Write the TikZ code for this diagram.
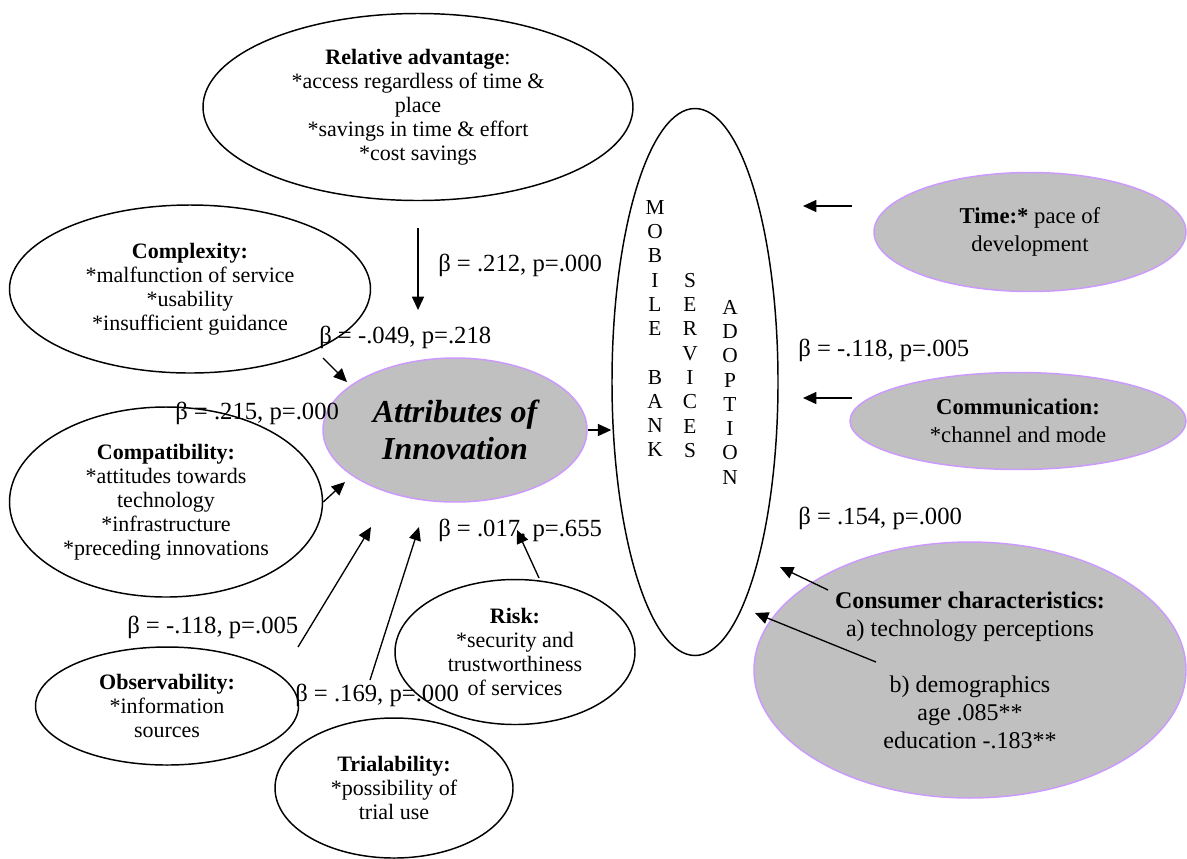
\documentclass[tikz,border=0pt]{standalone}
\usepackage{fontspec}
\setmainfont{Liberation Serif}
\usetikzlibrary{arrows.meta, shapes.geometric}
\definecolor{attrgray}{HTML}{C0C0C0}
\definecolor{attrlilac}{HTML}{CC99FF}

\begin{document}
\begin{tikzpicture}[
    x=0.75pt, y=-0.75pt,
    every node/.style={font=\fontsize{16.5}{18}\selectfont},
    oval/.style={draw, ellipse, line width=1.1pt, inner sep=0pt, align=center},
    shaded/.style={oval, draw=attrlilac, fill=attrgray},
    arr/.style={-{Triangle[length=10pt, width=9pt]}, line width=1pt},
    coef/.style={anchor=west, inner sep=0pt, font=\fontsize{18.5}{20}\selectfont},
    letters/.style={anchor=north, inner sep=0pt, align=center,
                    font=\fontsize{16}{18.2}\selectfont},
  ]
  \useasboundingbox (0,0) rectangle (1187,858);

  % Attributes of innovation
  \node[oval, minimum width=322.5pt, minimum height=140.25pt] (rel) at (418,107)
    {\textbf{Relative advantage}:\\{*}access regardless of time \&\\place\\{*}savings in time \& effort\\{*}cost savings};
  \node[oval, minimum width=270.75pt, minimum height=126pt] (cplx) at (190,289)
    {\textbf{Complexity:}\\{*}malfunction of service\\{*}usability\\{*}insufficient guidance};
  \node[oval, minimum width=234.75pt, minimum height=142.5pt] (compat) at (166,502)
    {\textbf{Compatibility:}\\{*}attitudes towards\\technology\\{*}infrastructure\\{*}preceding innovations};
  \node[oval, minimum width=197.25pt, minimum height=88.5pt] (obs) at (167,706)
    {\textbf{Observability:}\\{*}information\\sources};
  \node[oval, minimum width=178.5pt, minimum height=105pt] (trial) at (394,788)
    {\textbf{Trialability:}\\{*}possibility of\\trial use};
  \node[oval, minimum width=180pt, minimum height=108.75pt] (risk) at (515,652)
    {\textbf{Risk:}\\{*}security and\\trustworthiness\\of services};
  \node[shaded, minimum width=198pt, minimum height=108pt,
        font=\fontsize{24}{28}\selectfont\bfseries\itshape] (attr) at (455,430)
    {Attributes of\\Innovation};

  % Adoption
  \node[oval, minimum width=124.5pt, minimum height=410.25pt] (mob) at (695,382) {};
  \node[letters] (mob-1) at (655,200) {M\\O\\B\\I\\L\\E\\[18.2pt]B\\A\\N\\K};
  \node[letters] (mob-2) at (690,273) {S\\E\\R\\V\\I\\C\\E\\S};
  \node[letters] (mob-3) at (730,300) {A\\D\\O\\P\\T\\I\\O\\N};

  % Context
  \node[shaded, minimum width=234pt, minimum height=89.25pt,
        font=\fontsize{17}{21}\selectfont] (time) at (1030,232)
    {\textbf{Time:*} pace of\\development};
  \node[shaded, minimum width=252pt, minimum height=72.75pt,
        font=\fontsize{17}{21}\selectfont] (comm) at (1018,421)
    {\textbf{Communication:}\\{*}channel and mode};
  \node[shaded, minimum width=324pt, minimum height=192pt,
        font=\fontsize{18}{21}\selectfont] (cons) at (970,670)
    {\textbf{Consumer characteristics:}\\a) technology perceptions\\[21pt]b) demographics\\age .085**\\education -.183**};

  % Coefficients
  \node[coef] (b-rel)    at (438,265) {β = .212, p=.000};
  \node[coef] (b-cplx)   at (319,337) {β = -.049, p=.218};
  \node[coef] (b-compat) at (175,413) {β = .215, p=.000};
  \node[coef] (b-obs)    at (127,627) {β = -.118, p=.005};
  \node[coef] (b-trial)  at (295,695) {β = .169, p=.000};
  \node[coef] (b-risk)   at (438,530) {β = .017, p=.655};
  \node[coef] (b-comm)   at (798,350) {β = -.118, p=.005};
  \node[coef] (b-cons)   at (798,518) {β = .154, p=.000};

  % Arrow ends
  \coordinate (rel-s)    at (418,228);  \coordinate (rel-t)    at (418,310);
  \coordinate (cplx-s)   at (323,358);  \coordinate (cplx-t)   at (347,382);
  \coordinate (compat-t) at (345,482);
  \coordinate (obs-s)    at (298,647);  \coordinate (obs-t)    at (371,527);
  \coordinate (trial-s)  at (370,680);  \coordinate (trial-t)  at (419,527);
  \coordinate (risk-s)   at (539,578);  \coordinate (risk-t)   at (517,530);
  \coordinate (time-s)   at (852,206);  \coordinate (time-t)   at (803,206);
  \coordinate (comm-s)   at (852,398);  \coordinate (comm-t)   at (803,398);
  \coordinate (cons-s1)  at (828,590);  \coordinate (cons-t1)  at (780,567);
  \coordinate (cons-s2)  at (876,662);  \coordinate (cons-t2)  at (755,613);

  % Arrows
  \draw[arr] (rel-s) -- (rel-t);
  \draw[arr] (cplx-s) -- (cplx-t);
  \draw[arr] (compat.east) -- (compat-t);
  \draw[arr] (obs-s) -- (obs-t);
  \draw[arr] (trial-s) -- (trial-t);
  \draw[arr] (risk-s) -- (risk-t);
  \draw[arr] (attr.east) -- (attr.east -| mob.west);
  \draw[arr] (time-s) -- (time-t);
  \draw[arr] (comm-s) -- (comm-t);
  \draw[arr] (cons-s1) -- (cons-t1);
  \draw[arr] (cons-s2) -- (cons-t2);
\end{tikzpicture}
\end{document}
